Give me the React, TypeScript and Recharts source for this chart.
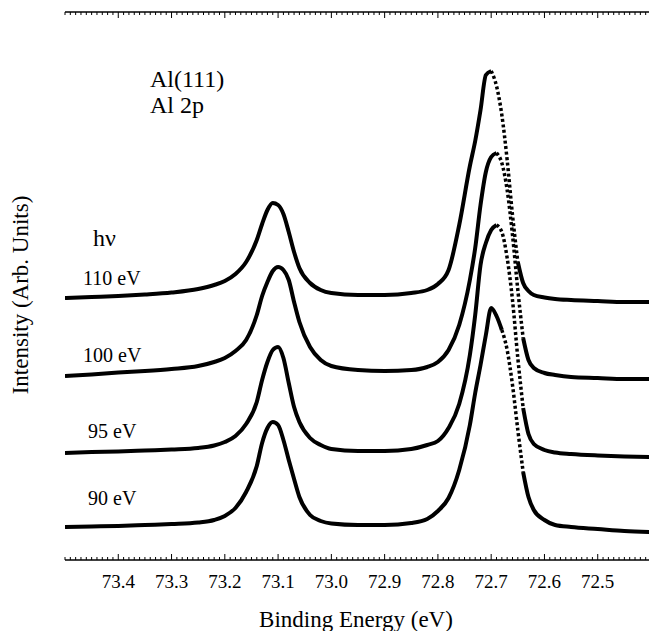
import { LineChart, Line, XAxis, YAxis } from "recharts"

// binding energy grid (eV), shared by all four spectra
const ENERGY = [
  73.5, 73.45, 73.4, 73.35, 73.3, 73.25, 73.22, 73.2, 73.18, 73.16, 73.14, 73.13,
  73.12, 73.11, 73.1, 73.09, 73.08, 73.07, 73.06, 73.04, 73.02, 73.0, 72.95, 72.9,
  72.85, 72.82, 72.8, 72.78, 72.76, 72.74, 72.73, 72.72, 72.71, 72.7, 72.69, 72.68,
  72.67, 72.66, 72.65, 72.64, 72.63, 72.62, 72.6, 72.58, 72.55, 72.5, 72.45, 72.4,
]

// intensities (arb. units, stacked with offsets as in the figure)
const HV_110 = [
  262, 263, 264, 265.5, 267.5, 271, 275, 279, 286, 298, 320, 336,
  350, 357, 355, 346, 328, 308, 292, 277, 270, 267, 265, 265,
  267, 270, 276, 290, 335, 394, 419, 450, 485, 489, 474, 445,
  400, 345, 298, 277, 269, 265, 262.5, 261, 260, 259, 258, 258,
]
const HV_100 = [
  184, 185.5, 187.5, 189, 191, 194, 198, 202, 209, 220, 245, 264,
  278, 289, 293, 290, 280, 258, 238, 213, 200, 194, 190, 189,
  190, 193, 198, 210, 235, 280, 312, 355, 388, 403, 407, 397,
  370, 325, 270, 222, 200, 192, 187, 185, 183, 182, 181, 181,
]
const HV_95 = [
  107, 108, 108.5, 109.5, 110.5, 112, 114.5, 118, 124, 136, 158, 180,
  198, 210, 213, 202, 177, 153, 138, 122, 115, 111, 109, 109,
  111, 115, 119, 132, 156, 205, 245, 295, 317, 330, 335, 328,
  302, 260, 202, 152, 126, 116, 110, 107.5, 106, 104.5, 103.5, 103,
]
const HV_90 = [
  33, 33.5, 34, 35, 36, 37.5, 40, 44, 52, 68, 94, 117,
  132, 138, 135, 120, 100, 81, 63, 45, 39, 36.5, 35, 35,
  37, 41, 49, 62, 90, 135, 167, 195, 225, 252, 244, 230,
  210, 175, 130, 88, 63, 50, 40, 35, 33, 31, 29, 28,
]

// the steep low-BE side of the 2p3/2 peak shows up as sparse dots
// dotted: [first, last] index into ENERGY; the solid trace resumes at `last`
const SPECTRA = [
  { key: "hv110", values: HV_110, dotted: [33, 38] },
  { key: "hv100", values: HV_100, dotted: [34, 39] },
  { key: "hv95", values: HV_95, dotted: [34, 39] },
  { key: "hv90", values: HV_90, dotted: [35, 39] },
]

const MAJOR_TICKS = [73.4, 73.3, 73.2, 73.1, 73.0, 72.9, 72.8, 72.7, 72.6, 72.5]

const data = ENERGY.map((e, i) => {
  const row: Record<string, number | null> = { e }
  SPECTRA.forEach((s) => {
    const [a, b] = s.dotted
    row[s.key] = i > a && i < b ? null : s.values[i]
    row[s.key + "_dot"] = i >= a && i <= b ? s.values[i] : null
  })
  return row
})

const allTicks: number[] = []
for (let k = 7240; k <= 7350; k++) allTicks.push(k / 100)

const FONT = "Liberation Serif, DejaVu Serif"

const isMajor = (v: number) => MAJOR_TICKS.some((m) => Math.abs(m - v) < 1e-6)

function BottomTick({ x, y, payload }: any) {
  const major = isMajor(payload.value)
  return (
    <g>
      <line x1={x} x2={x} y1={y} y2={y - (major ? 6 : 3)} stroke="#000" strokeWidth={1} />
      {major && (
        <text x={x} y={y + 28} textAnchor="middle" fill="#000" fontFamily={FONT} fontSize={19}>
          {payload.value.toFixed(1)}
        </text>
      )}
    </g>
  )
}

function TopTick({ x, y, payload }: any) {
  const major = isMajor(payload.value)
  return <line x1={x} x2={x} y1={y} y2={y + (major ? 6 : 3)} stroke="#000" strokeWidth={1} />
}

export default function App() {
  return (
    <div style={{ position: "absolute", left: 0, top: 0, width: 649, height: 631, overflow: "hidden", background: "#fff" }}>
      <LineChart width={652} height={631} data={data} margin={{ top: 0, right: 1, left: 65, bottom: 0 }}>
        <XAxis
          dataKey="e"
          type="number"
          domain={[72.4, 73.5]}
          reversed
          allowDataOverflow
          ticks={allTicks}
          interval={0}
          tick={<BottomTick />}
          tickLine={false}
          tickSize={0}
          tickMargin={0}
          height={71}
          axisLine={{ stroke: "#000", strokeWidth: 1.5 }}
        />
        <XAxis
          xAxisId="top"
          orientation="top"
          dataKey="e"
          type="number"
          domain={[72.4, 73.5]}
          reversed
          allowDataOverflow
          ticks={allTicks}
          interval={0}
          tick={<TopTick />}
          tickLine={false}
          tickSize={0}
          tickMargin={0}
          height={12}
          axisLine={{ stroke: "#000", strokeWidth: 1.5 }}
        />
        <YAxis
          type="number"
          domain={[0, 548]}
          allowDataOverflow
          tick={false}
          tickLine={false}
          width={0}
          axisLine={{ stroke: "#000", strokeWidth: 1.5 }}
        />
        {SPECTRA.map((s) => (
          <Line
            key={s.key}
            type="monotone"
            dataKey={s.key}
            stroke="#000"
            strokeWidth={4}
            dot={false}
            isAnimationActive={false}
          />
        ))}
        {SPECTRA.map((s) => (
          <Line
            key={s.key + "_dot"}
            type="monotone"
            dataKey={s.key + "_dot"}
            stroke="#000"
            strokeWidth={3.5}
            strokeDasharray="3 2.5"
            dot={false}
            isAnimationActive={false}
          />
        ))}
      </LineChart>
      <svg width={649} height={631} style={{ position: "absolute", left: 0, top: 0, pointerEvents: "none" }}>
        <g fill="#000" fontFamily={FONT}>
          <text x={150} y={87} fontSize={24}>Al(111)</text>
          <text x={150} y={113} fontSize={24}>Al 2p</text>
          <text x={93} y={246} fontSize={24}>hν</text>
          <text x={83} y={285} fontSize={20}>110 eV</text>
          <text x={83} y={362} fontSize={20}>100 eV</text>
          <text x={88} y={438} fontSize={20}>95 eV</text>
          <text x={88} y={505} fontSize={20}>90 eV</text>
          <text x={356} y={627} fontSize={23} textAnchor="middle">Binding Energy (eV)</text>
          <text transform="translate(28,295) rotate(-90)" fontSize={23} textAnchor="middle">
            Intensity (Arb. Units)
          </text>
        </g>
      </svg>
    </div>
  )
}
